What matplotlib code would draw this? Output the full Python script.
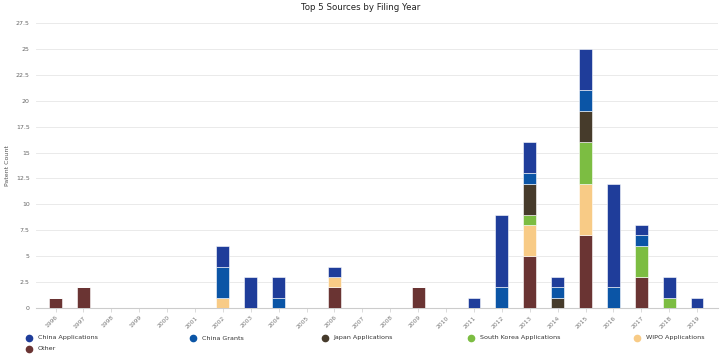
import matplotlib
matplotlib.use("Agg")
import matplotlib.pyplot as plt
import numpy as np
from matplotlib.lines import Line2D

years = [str(y) for y in range(1996, 2020)]
series_names = ["China Applications", "China Grants", "Japan Applications",
                "South Korea Applications", "WIPO Applications", "Other"]
colors = ["#1f3d9a", "#0b55a6", "#463b2b", "#7cbd42", "#f8cb86", "#6a3433"]

#              96 97 98 99 00 01 02 03 04 05 06 07 08 09 10 11 12 13 14 15 16 17 18 19
china_apps   = [0, 0, 0, 0, 0, 0, 2, 3, 2, 0, 1, 0, 0, 0, 0, 1, 7, 3, 1, 4, 10, 1, 2, 1]
china_grants = [0, 0, 0, 0, 0, 0, 3, 0, 1, 0, 0, 0, 0, 0, 0, 0, 2, 1, 1, 2, 2, 1, 0, 0]
japan_apps   = [0, 0, 0, 0, 0, 0, 0, 0, 0, 0, 0, 0, 0, 0, 0, 0, 0, 3, 1, 3, 0, 0, 0, 0]
korea_apps   = [0, 0, 0, 0, 0, 0, 0, 0, 0, 0, 0, 0, 0, 0, 0, 0, 0, 1, 0, 4, 0, 3, 1, 0]
wipo_apps    = [0, 0, 0, 0, 0, 0, 1, 0, 0, 0, 1, 0, 0, 0, 0, 0, 0, 3, 0, 5, 0, 0, 0, 0]
other        = [1, 2, 0, 0, 0, 0, 0, 0, 0, 0, 2, 0, 0, 2, 0, 0, 0, 5, 0, 7, 0, 3, 0, 0]

yticks = [0, 2.5, 5, 7.5, 10, 12.5, 15, 17.5, 20, 22.5, 25, 27.5]
ytick_labels = ["0", "2.5", "5", "7.5", "10", "12.5", "15", "17.5", "20", "22.5", "25", "27.5"]

# stacking order bottom -> top
stack = [(other, 5), (wipo_apps, 4), (korea_apps, 3), (japan_apps, 2),
         (china_grants, 1), (china_apps, 0)]

W, H = 722, 359
fig = plt.figure(figsize=(W / 100, H / 100), dpi=100)
ax = fig.add_axes([36 / W, (H - 308) / H, 682 / W, 285 / H])

x = np.arange(len(years))
bottom = np.zeros(len(years))
for vals, idx in stack:
    v = np.array(vals, dtype=float)
    ax.bar(x, v, bottom=bottom, width=0.46, color=colors[idx],
           edgecolor="white", linewidth=0.4, zorder=3)
    bottom += v

ax.set_xlim(-0.7, len(years) - 0.25)
ax.set_ylim(0, 27.5)
ax.set_yticks(yticks)
ax.set_yticklabels(ytick_labels, fontsize=4.5, color="#666666")
ax.set_xticks(x)
ax.set_xticklabels(years, rotation=45, fontsize=4.3, color="#777777",
                   ha="right", rotation_mode="anchor")
ax.tick_params(axis="y", length=0, pad=4.5)
ax.tick_params(axis="x", length=3, width=0.5, color="#cccccc", pad=2)
ax.grid(axis="y", color="#e6e6e6", linewidth=0.6, zorder=0)
for s in ["top", "right", "left"]:
    ax.spines[s].set_visible(False)
ax.spines["bottom"].set_color("#cccccc")
ax.spines["bottom"].set_linewidth(0.8)
ax.set_ylabel("Patent Count", fontsize=4.5, color="#555555")
ax.yaxis.set_label_coords(-26 / 682, 0.5)

fig.text(0.5, 1 - 7.5 / H, "Top 5 Sources by Filing Year", ha="center", va="center",
         fontsize=6.2, color="#222222")

# legend, placed item by item
leg_pos = [(29, 338), (193, 338), (325, 338), (471, 338), (637, 338), (29, 348.5)]
for name, c, (px, py) in zip(series_names, colors, leg_pos):
    fig.add_artist(Line2D([px / W], [1 - py / H], marker="o", linestyle="none",
                          markersize=4.5, markerfacecolor=c, markeredgecolor=c,
                          transform=fig.transFigure))
    fig.text((px + 8.5) / W, 1 - py / H, name, ha="left", va="center",
             fontsize=4.6, color="#333333")

fig.savefig("out.png", dpi=100)
